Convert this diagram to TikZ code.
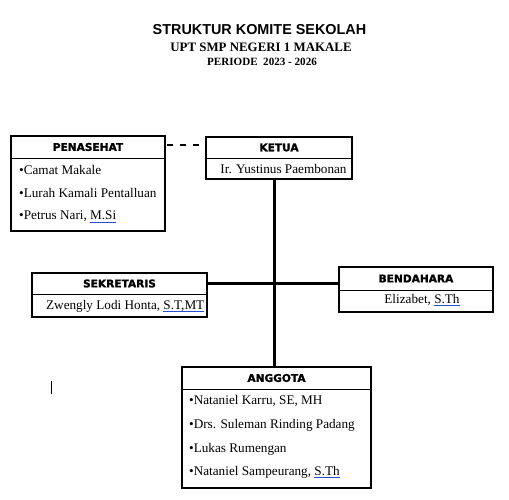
\documentclass[tikz,border=0pt]{standalone}
\usepackage{fontspec}
\setmainfont{Liberation Serif}
\newfontfamily\titlefont{Liberation Sans}
\newfontfamily\headfont[BoldFeatures={FakeBold=1.6}]{DejaVu Sans}
\definecolor{ulblue}{RGB}{40,80,210}
\newsavebox\ulbox
\newcommand\bluline[1]{\leavevmode\sbox\ulbox{#1}\rlap{\textcolor{ulblue}{\rule[-0.22em]{\wd\ulbox}{0.9pt}}}\usebox\ulbox}
\begin{document}
\begin{tikzpicture}[x=1pt,y=-1pt,
  part/.style={inner sep=0pt, outer sep=0pt, minimum width=#1},
  headtxt/.style={font=\headfont\bfseries\fontsize{10.6}{12}\selectfont},
  bodytxt/.style={inner sep=0pt, font=\fontsize{13.2}{15}\selectfont},
  outer/.style={line width=1.6pt},
  sep/.style={line width=0.9pt},
  conn/.style={line width=3pt},
  dconn/.style={line width=2.2pt, dash pattern=on 6pt off 7pt}]
\useasboundingbox (0,0) rectangle (509,500);
\fill[white] (0,0) rectangle (509,500);

% titles
\node[inner sep=0pt, font=\titlefont\bfseries\fontsize{14.4}{16}\selectfont] (t1) at (259.5,30) {STRUKTUR KOMITE SEKOLAH};
\node[inner sep=0pt, font=\bfseries\fontsize{12.9}{15}\selectfont] (t2) at (261,47) {UPT SMP NEGERI 1 MAKALE};
\node[inner sep=0pt, font=\bfseries\fontsize{11.1}{13}\selectfont] (t3) at (262,62) {PERIODE\ \ 2023 - 2026};

% PENASEHAT
\node[part=154pt, minimum height=22pt, headtxt] (penh) at (88,147) {PENASEHAT};
\node[part=154pt, minimum height=73pt] (penb) at (88,194.5) {};
\draw[outer] (penh.north west) rectangle (penb.south east);
\draw[sep] (penh.south west) -- (penh.south east);
\node[bodytxt, anchor=west] (pen1) at (19,170) {•Camat Makale};
\node[bodytxt, anchor=west] (pen2) at (19,193) {•Lurah Kamali Pentalluan};
\node[bodytxt, anchor=west] (pen3) at (19,217) {•Petrus Nari, \bluline{M.Si}};

% KETUA
\node[part=146pt, minimum height=21pt, headtxt] (keth) at (279,147.5) {KETUA};
\node[part=146pt, minimum height=21pt] (ketb) at (279,168.5) {};
\draw[outer] (keth.north west) rectangle (ketb.south east);
\draw[sep] (keth.south west) -- (keth.south east);
\node[bodytxt] (ket1) at (283.5,169) {Ir. Yustinus Paembonan};

% SEKRETARIS
\node[part=175pt, minimum height=21pt, headtxt] (sekh) at (119.5,283.5) {SEKRETARIS};
\node[part=175pt, minimum height=23pt] (sekb) at (119.5,305.5) {};
\draw[outer] (sekh.north west) rectangle (sekb.south east);
\draw[sep] (sekh.south west) -- (sekh.south east);
\node[bodytxt, anchor=east] (sek1) at (204.5,306) {Zwengly Lodi Honta, \bluline{S.T,MT}};

% BENDAHARA
\node[part=154pt, minimum height=23pt, headtxt] (benh) at (416,278.5) {BENDAHARA};
\node[part=154pt, minimum height=22pt] (benb) at (416,301) {};
\draw[outer] (benh.north west) rectangle (benb.south east);
\draw[sep] (benh.south west) -- (benh.south east);
\node[bodytxt] (ben1) at (422,300) {Elizabet, \bluline{S.Th}};

% ANGGOTA
\node[part=189pt, minimum height=22pt, headtxt] (angh) at (276.5,378) {ANGGOTA};
\node[part=189pt, minimum height=99pt] (angb) at (276.5,438.5) {};
\draw[outer] (angh.north west) rectangle (angb.south east);
\draw[sep] (angh.south west) -- (angh.south east);
\node[bodytxt, anchor=west] (ang1) at (189,401) {•Nataniel Karru, SE, MH};
\node[bodytxt, anchor=west] (ang2) at (189,425) {•Drs. Suleman Rinding Padang};
\node[bodytxt, anchor=west] (ang3) at (189,449) {•Lukas Rumengan};
\node[bodytxt, anchor=west] (ang4) at (189,472) {•Nataniel Sampeurang, \bluline{S.Th}};

% connectors
\coordinate (j) at (274,283);
\draw[dconn] ([xshift=2pt,yshift=2pt]penh.east) -- ([yshift=2pt]penh.east -| keth.west);
\draw[conn] (ketb.south -| j) -- (angh.north -| j);
\draw[conn] (sekh.east |- j) -- (benh.west |- j);

% text cursor mark
\coordinate (c1) at (51,381);
\coordinate (c2) at (51,394);
\draw[line width=1pt] (c1) -- (c2);
\end{tikzpicture}
\end{document}
